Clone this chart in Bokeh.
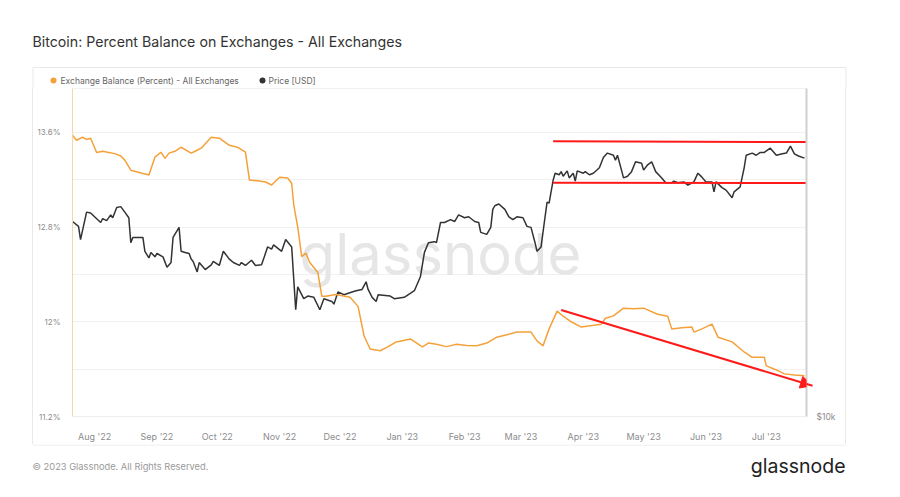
import pandas as pd
from bokeh.plotting import figure
from bokeh.layouts import column, row
from bokeh.models import (Range1d, LogScale, LogAxis, FixedTicker, Label,
                          Arrow, NormalHead, ColumnDataSource)
from bokeh.embed import file_html
from bokeh.resources import INLINE

# ---------------- data ----------------
balance_dates = ["2022-07-21", "2022-07-23", "2022-07-26", "2022-07-28", "2022-07-30", "2022-08-02",
                 "2022-08-05", "2022-08-08", "2022-08-11", "2022-08-14", "2022-08-16", "2022-08-19",
                 "2022-08-24", "2022-08-28", "2022-08-31", "2022-09-03", "2022-09-05", "2022-09-07",
                 "2022-09-10", "2022-09-13", "2022-09-18", "2022-09-20", "2022-09-23", "2022-09-28",
                 "2022-10-02", "2022-10-07", "2022-10-11", "2022-10-15", "2022-10-17", "2022-10-21",
                 "2022-10-25", "2022-10-28", "2022-11-01", "2022-11-05", "2022-11-07", "2022-11-08",
                 "2022-11-10", "2022-11-12", "2022-11-14", "2022-11-16", "2022-11-20", "2022-11-22",
                 "2022-11-24", "2022-11-29", "2022-12-06", "2022-12-10", "2022-12-13", "2022-12-16",
                 "2022-12-21", "2022-12-25", "2022-12-29", "2023-01-05", "2023-01-11", "2023-01-14",
                 "2023-01-18", "2023-01-23", "2023-01-28", "2023-02-02", "2023-02-07", "2023-02-12",
                 "2023-02-17", "2023-02-22", "2023-02-27", "2023-03-06", "2023-03-09", "2023-03-12",
                 "2023-03-15", "2023-03-19", "2023-03-22", "2023-03-26", "2023-03-31", "2023-04-10",
                 "2023-04-12", "2023-04-16", "2023-04-21", "2023-04-26", "2023-05-01", "2023-05-08",
                 "2023-05-13", "2023-05-15", "2023-05-20", "2023-05-25", "2023-05-26", "2023-05-30",
                 "2023-06-04", "2023-06-07", "2023-06-14", "2023-06-20", "2023-06-24", "2023-06-30",
                 "2023-07-01", "2023-07-07", "2023-07-10", "2023-07-15", "2023-07-20"]
balance_pct = [13.575, 13.533, 13.558, 13.54, 13.55, 13.43,
               13.44, 13.43, 13.42, 13.40, 13.365, 13.28,
               13.256, 13.24, 13.39, 13.432, 13.38, 13.424,
               13.44, 13.474, 13.424, 13.44, 13.466, 13.558,
               13.55, 13.49, 13.474, 13.432, 13.197, 13.19,
               13.18, 13.155, 13.22, 13.214, 13.17, 12.99,
               12.80, 12.55, 12.58, 12.50, 12.416, 12.215,
               12.215, 12.23, 12.207, 12.13, 11.88, 11.77,
               11.755, 11.79, 11.83, 11.855, 11.788, 11.82,
               11.81, 11.79, 11.81, 11.80, 11.797, 11.82,
               11.87, 11.89, 11.913, 11.913, 11.838, 11.797,
               11.94, 12.09, 12.047, 12.0, 11.955, 11.98,
               12.03, 12.05, 12.115, 12.11, 12.115, 12.064,
               12.047, 11.938, 11.95, 11.955, 11.913, 11.94,
               11.98, 11.87, 11.83, 11.745, 11.70, 11.70,
               11.628, 11.586, 11.56, 11.55, 11.544]

price_dates = ["2022-07-21", "2022-07-24", "2022-07-25", "2022-07-28", "2022-07-30", "2022-08-04",
               "2022-08-05", "2022-08-07", "2022-08-09", "2022-08-10", "2022-08-12", "2022-08-14",
               "2022-08-16", "2022-08-18", "2022-08-19", "2022-08-20", "2022-08-25", "2022-08-26",
               "2022-08-28", "2022-08-29", "2022-08-31", "2022-09-01", "2022-09-04", "2022-09-06",
               "2022-09-08", "2022-09-09", "2022-09-12", "2022-09-13", "2022-09-15", "2022-09-17",
               "2022-09-18", "2022-09-19", "2022-09-21", "2022-09-22", "2022-09-25", "2022-09-28",
               "2022-09-29", "2022-10-02", "2022-10-04", "2022-10-07", "2022-10-09", "2022-10-12",
               "2022-10-13", "2022-10-15", "2022-10-18", "2022-10-20", "2022-10-23", "2022-10-24",
               "2022-10-26", "2022-10-28", "2022-10-29", "2022-11-02", "2022-11-04", "2022-11-07",
               "2022-11-09", "2022-11-10", "2022-11-13", "2022-11-15", "2022-11-18", "2022-11-21",
               "2022-11-23", "2022-11-27", "2022-11-28", "2022-11-30", "2022-12-03", "2022-12-07",
               "2022-12-09", "2022-12-12", "2022-12-14", "2022-12-15", "2022-12-17", "2022-12-19",
               "2022-12-20", "2022-12-26", "2022-12-28", "2023-01-02", "2023-01-07", "2023-01-10",
               "2023-01-12", "2023-01-14", "2023-01-17", "2023-01-18", "2023-01-20", "2023-01-22",
               "2023-01-25", "2023-01-27", "2023-01-29", "2023-02-01", "2023-02-03", "2023-02-06",
               "2023-02-08", "2023-02-09", "2023-02-12", "2023-02-14", "2023-02-15", "2023-02-16",
               "2023-02-18", "2023-02-21", "2023-02-23", "2023-02-25", "2023-02-27", "2023-03-02",
               "2023-03-04", "2023-03-06", "2023-03-08", "2023-03-09", "2023-03-11", "2023-03-13",
               "2023-03-14", "2023-03-15", "2023-03-17", "2023-03-18", "2023-03-20", "2023-03-21",
               "2023-03-22", "2023-03-24", "2023-03-25", "2023-03-27", "2023-03-28", "2023-03-29",
               "2023-04-01", "2023-04-02", "2023-04-04", "2023-04-06", "2023-04-09", "2023-04-11",
               "2023-04-13", "2023-04-16", "2023-04-17", "2023-04-18", "2023-04-20", "2023-04-21",
               "2023-04-23", "2023-04-25", "2023-04-27", "2023-04-30", "2023-05-01", "2023-05-03",
               "2023-05-05", "2023-05-07", "2023-05-10", "2023-05-12", "2023-05-15", "2023-05-16",
               "2023-05-18", "2023-05-21", "2023-05-23", "2023-05-26", "2023-05-28", "2023-05-30",
               "2023-06-01", "2023-06-04", "2023-06-05", "2023-06-06", "2023-06-09", "2023-06-11",
               "2023-06-14", "2023-06-15", "2023-06-18", "2023-06-20", "2023-06-21", "2023-06-24",
               "2023-06-26", "2023-06-28", "2023-06-30", "2023-07-03", "2023-07-06", "2023-07-09",
               "2023-07-11", "2023-07-13", "2023-07-15", "2023-07-17", "2023-07-20"]
price_usd = [23600, 23100, 21800, 24600, 24500, 23500,
             23900, 23700, 24300, 24000, 25100, 25200,
             24600, 24000, 21500, 22000, 22000, 20700,
             20100, 20600, 20200, 20500, 20200, 19300,
             19700, 22000, 23000, 20700, 20600, 20500,
             20000, 19800, 18900, 19700, 19100, 19500,
             19800, 19450, 20700, 20000, 19700, 19450,
             19700, 19450, 19900, 19450, 19500, 20000,
             21100, 20900, 21300, 20700, 21800, 21100,
             16000, 17700, 16800, 17000, 16900, 16000,
             16800, 16600, 16400, 17300, 17100, 17300,
             17400, 17500, 18100, 17500, 16900, 16600,
             17100, 17000, 16800, 16900, 17400, 18500,
             20600, 21500, 21600, 21500, 23500, 23500,
             23800, 23600, 24300, 24000, 24100, 23600,
             23500, 22500, 22300, 23000, 24900, 25300,
             25500, 24900, 24100, 23800, 24100, 24000,
             23100, 23000, 21500, 20700, 21100, 24100,
             25700, 25600, 28300, 29200, 29000, 29400,
             28800, 29500, 28600, 29200, 28200, 29500,
             29200, 29400, 29000, 29200, 29900, 31300,
             31900, 31600, 30900, 31600, 29600, 28600,
             28800, 29400, 30700, 30500, 29600, 30300,
             30700, 29400, 28600, 28000, 28000, 28200,
             28000, 28100, 27700, 28100, 29200, 28700,
             28100, 28100, 26900, 28100, 27400, 27100,
             26200, 26900, 27500, 29900, 31600, 31900,
             31600, 32000, 32000, 32600, 31600, 31800,
             31900, 32900, 31800, 31500, 31200]

month_ticks = ["2022-08-01", "2022-09-01", "2022-10-01", "2022-11-01", "2022-12-01", "2023-01-01",
               "2023-02-01", "2023-03-01", "2023-04-01", "2023-05-01", "2023-06-01", "2023-07-01"]
month_labels = ["Aug '22", "Sep '22", "Oct '22", "Nov '22", "Dec '22", "Jan '23",
                "Feb '23", "Mar '23", "Apr '23", "May '23", "Jun '23", "Jul '23"]
pct_ticks = [11.2, 12.0, 12.8, 13.6]
pct_labels = ["11.2%", "12%", "12.8%", "13.6%"]
pct_grid = [11.2, 11.6, 12.0, 12.4, 12.8, 13.2, 13.6]
price_ticks = [10000]
price_labels = ["$10k"]

series_names = ["Exchange Balance (Percent) - All Exchanges", "Price [USD]"]
title_text = "Bitcoin: Percent Balance on Exchanges - All Exchanges"
copyright_text = "\u00a9 2023 Glassnode. All Rights Reserved."
logo_text = "glassnode"

# hand-drawn annotations (in data units)
band_dates = ["2023-03-17", "2023-07-21"]
resistance_usd = [33600, 33500]
support_usd = [28000, 27950]
trend_dates = ["2023-03-21", "2023-07-24"]
trend_pct = [12.10, 11.46]

ORANGE = "#f4a13a"
DARK = "#333333"
RED = "#ff1a1a"
CARD = "#e9e9e9"
FONT = "Inter"

W = 900
HEAD_H, MAIN_H, FOOT_H = 88, 356, 53      # page rows: 0-88, 88-444, 444-497
CARD_L, CARD_R, CARD_T = 32, 845, 67
FL, FR = 72, 806


def ms(d):
    return int(pd.Timestamp(d).value // 10**6)


def blank(h, y0):
    """A figure whose frame is the whole canvas; data units == page pixels."""
    f = figure(width=W, height=h, output_backend="svg", toolbar_location=None,
               x_range=Range1d(0, W), y_range=Range1d(y0 + h, y0),
               x_axis_location=None, y_axis_location=None,
               min_border=0, min_border_left=0, min_border_right=0,
               min_border_top=0, min_border_bottom=0)
    f.outline_line_color = None
    f.grid.visible = False
    f.background_fill_color = "white"
    f.border_fill_color = "white"
    return f


def text(f, s, x, y, size, color, align="left", level="annotation"):
    lab = Label(x=x, y=y, text=s, text_font=FONT, text_font_size=size, text_color=color,
                text_align=align, text_baseline="middle")
    lab.level = level
    f.add_layout(lab)


# ---------------- header: title + legend + top of card ----------------
head = blank(HEAD_H, 0)
text(head, title_text, 32, 41, "14.2px", "#333333")
head.line([CARD_L + 0.5, CARD_L + 0.5, CARD_R + 0.5, CARD_R + 0.5], [HEAD_H, CARD_T, CARD_T, HEAD_H],
          line_color=CARD, line_width=1)
head.scatter([53, 262], [80, 80], size=6, color=[ORANGE, DARK], line_color=None)
text(head, series_names[0], 60, 80, "8.5px", "#666666")
text(head, series_names[1], 268, 80, "8.5px", "#666666")

# ---------------- main chart ----------------
p = figure(width=W, height=MAIN_H, output_backend="svg", toolbar_location=None,
           x_axis_type="datetime",
           x_range=Range1d(pd.Timestamp("2022-07-21"), pd.Timestamp("2023-07-21")),
           y_range=Range1d(11.2, 13.97),
           min_border_left=FL, min_border_right=W - FR, min_border_top=0, min_border_bottom=26)
p.background_fill_color = "white"
p.border_fill_color = "white"
p.border_fill_alpha = 0
p.outline_line_color = "#f2f2f2"
p.styles = {
    "background-color": "white",
    "background-image": (
        f"linear-gradient(to right, transparent {CARD_L}px, {CARD} {CARD_L}px, {CARD} {CARD_L + 1}px, transparent {CARD_L + 1}px),"
        f"linear-gradient(to right, transparent {CARD_R}px, {CARD} {CARD_R}px, {CARD} {CARD_R + 1}px, transparent {CARD_R + 1}px)"
    ),
}

p.extra_y_ranges = {"price": Range1d(10000, 42400)}
p.extra_y_scales = {"price": LogScale()}

xa = p.xaxis[0]
xa.ticker = FixedTicker(ticks=[ms(d) for d in month_ticks])
xa.major_label_overrides = {ms(d): l for d, l in zip(month_ticks, month_labels)}
xa.axis_line_color = "#eeeeee"
xa.major_tick_line_color = None
xa.minor_tick_line_color = None
xa.major_label_text_font = FONT
xa.major_label_text_font_size = "9px"
xa.major_label_text_color = "#8c8c8c"
xa.major_label_standoff = 8

ya = p.yaxis[0]
ya.ticker = FixedTicker(ticks=pct_ticks)
ya.major_label_overrides = dict(zip(pct_ticks, pct_labels))
ya.axis_line_color = "#f8d6aa"
ya.major_tick_line_color = None
ya.minor_tick_line_color = None
ya.major_label_text_font = FONT
ya.major_label_text_font_size = "8px"
ya.major_label_text_color = "#8c8c8c"
ya.major_label_standoff = 6

ra = LogAxis(y_range_name="price", ticker=FixedTicker(ticks=price_ticks),
             major_label_overrides=dict(zip(price_ticks, price_labels)))
ra.axis_line_color = "#d0d0d0"
ra.axis_line_width = 2
ra.major_tick_line_color = None
ra.minor_tick_line_color = None
ra.major_label_text_font = FONT
ra.major_label_text_font_size = "8.5px"
ra.major_label_text_color = "#8c8c8c"
ra.major_label_standoff = 4
p.add_layout(ra, "right")

p.xgrid.visible = False
p.ygrid.ticker = FixedTicker(ticks=pct_grid)
p.ygrid.grid_line_color = "#f1f1f1"

# watermark (screen units are relative to the frame)
wm = Label(x=440 - FL, y=418 - 255, x_units="screen", y_units="screen", text=logo_text,
           text_font=FONT, text_font_size="58px", text_color="#e6e6e6", text_align="center",
           text_baseline="middle")
wm.level = "underlay"
p.add_layout(wm)

src_b = ColumnDataSource(dict(x=pd.to_datetime(balance_dates), y=balance_pct))
src_p = ColumnDataSource(dict(x=pd.to_datetime(price_dates), y=price_usd))
p.line("x", "y", source=src_p, y_range_name="price", line_color=DARK, line_width=1.5)
p.line("x", "y", source=src_b, line_color=ORANGE, line_width=1.5)

p.line(pd.to_datetime(band_dates), resistance_usd, y_range_name="price", line_color=RED, line_width=2)
p.line(pd.to_datetime(band_dates), support_usd, y_range_name="price", line_color=RED, line_width=2)
p.add_layout(Arrow(end=NormalHead(size=12, fill_color=RED, line_color=RED),
                   x_start=ms(trend_dates[0]), y_start=trend_pct[0],
                   x_end=ms(trend_dates[1]), y_end=trend_pct[1],
                   line_color=RED, line_width=2))

# ---------------- footer: bottom of card + credits ----------------
foot = blank(FOOT_H, 444)
foot.line([CARD_L + 0.5, CARD_R + 1], [444.5, 444.5], line_color=CARD, line_width=1)
text(foot, copyright_text, 32, 466, "9.3px", "#9a9a9a")
text(foot, logo_text, 845, 465, "19.5px", "#222222", align="right")

# wrap header/footer in their own rows so their frames are not aligned with the chart's frame
layout = column(row(head, spacing=0), p, row(foot, spacing=0), spacing=0)
open("out.html", "w").write(file_html(layout, INLINE))
